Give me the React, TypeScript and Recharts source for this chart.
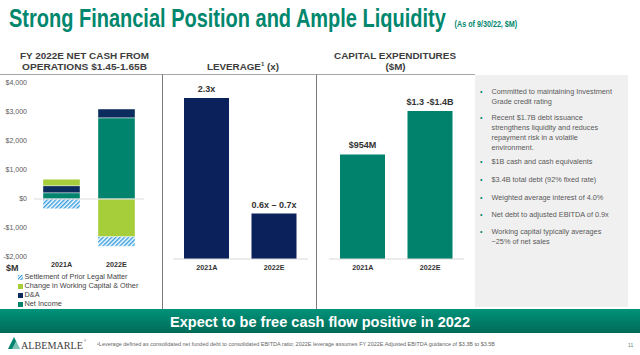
import React from 'react';
import { BarChart, Bar, XAxis, YAxis, ReferenceLine, Legend, LabelList } from 'recharts';

// net cash from operations ($M)
const cashCategories = ['2021A', '2022E'];
const netIncome = [215, 2800];
const depreciation = [245, 300];
const workingCapital = [220, -1300];
const legalSettlement = [-335, -330];
const cashTicks = [-2000, -1000, 0, 1000, 2000, 3000, 4000];

// leverage (x)
const leverageCategories = ['2021A', '2022E'];
const leverageValues = [2.3, 0.65];
const leverageLabels = ['2.3x', '0.6x – 0.7x'];

// capex ($M)
const capexCategories = ['2021A', '2022E'];
const capexValues = [954, 1350];
const capexLabels = ['$954M', '$1.3 -$1.4B'];

const bullets = [
  ['Committed to maintaining Investment', 'Grade credit rating'],
  ['Recent $1.7B debt issuance', 'strengthens liquidity and reduces', 'repayment risk in a volatile', 'environment.'],
  ['$1B cash and cash equivalents'],
  ['$3.4B total debt (92% fixed rate)'],
  ['Weighted average interest of 4.0%'],
  ['Net debt to adjusted EBITDA of 0.9x'],
  ['Working capital typically averages', '~25% of net sales'],
];
const bulletTops = [91.7, 117.3, 161.7, 179.7, 197.3, 214.3, 231.7];

const TEAL = '#00846d';
const NAVY = '#0b2c5d';
const LIME = '#a6cd3a';
const HATCH = '#3a9fe0';
const FONT = '"Liberation Sans", Arial, sans-serif';

const cashSeries = [
  { key: 'ni', name: 'Net Income', fill: TEAL },
  { key: 'da', name: 'D&A', fill: NAVY },
  { key: 'wc', name: 'Change in Working Capital & Other', fill: LIME },
  { key: 'legal', name: 'Settlement of Prior Legal Matter', fill: 'url(#legalHatch)' },
];

const cashData = cashCategories.map((cat, i) => ({
  cat,
  ni: netIncome[i],
  da: depreciation[i],
  wc: workingCapital[i],
  legal: legalSettlement[i],
}));
const leverageData = leverageCategories.map((cat, i) => ({ cat, value: leverageValues[i], label: leverageLabels[i] }));
const capexData = capexCategories.map((cat, i) => ({ cat, value: capexValues[i], label: capexLabels[i] }));

const fmtMoney = (v: number) => (v < 0 ? '-$' : '$') + Math.abs(v).toLocaleString('en-US');

const catTick = { fill: '#333', fontSize: 7.2, fontWeight: 700, fontFamily: FONT };

// label above bar, no wrapping
const renderTopLabel = (p: any) => (
  <text x={p.x + p.width / 2} y={p.y - 6} textAnchor="middle" fill="#333" fontSize={9} fontWeight={700} fontFamily={FONT}>
    {p.value}
  </text>
);

function CashLegend() {
  const items = [...cashSeries].reverse();
  return (
    <div style={{ fontFamily: FONT, fontSize: 7.3, color: '#444', lineHeight: '8.9px' }}>
      {items.map((s) => (
        <div key={s.key} style={{ display: 'flex', alignItems: 'center', whiteSpace: 'nowrap' }}>
          <svg width={5} height={5} style={{ marginRight: 1.5 }}>
            <defs>
              <pattern id="legendHatch" patternUnits="userSpaceOnUse" width={2.4} height={2.4} patternTransform="rotate(45)">
                <rect width={2.4} height={2.4} fill="#fff" />
                <rect width={1.2} height={2.4} fill={HATCH} />
              </pattern>
            </defs>
            <rect width={5} height={5} fill={s.key === 'legal' ? 'url(#legendHatch)' : s.fill} />
          </svg>
          {s.name}
        </div>
      ))}
    </div>
  );
}

function Slide() {
  const bulletRows: React.ReactNode[] = [];
  bullets.forEach((lines, bi) => {
    const y = bulletTops[bi];
    bulletRows.push(
      <text key={'b' + bi} x={480} y={y + 2.5} fontSize={7} fill={TEAL}>•</text>
    );
    lines.forEach((line, li) => {
      bulletRows.push(
        <text key={bi + '-' + li} x={491.5} y={y + li * 9.9 + 2.5} fontSize={7.3} fill="#5a5a5a">{line}</text>
      );
    });
  });

  return (
    <svg width={640} height={355} style={{ position: 'absolute', left: 0, top: 0 }} fontFamily={FONT}>
      <defs>
        <linearGradient id="banner" x1="0" y1="0" x2="0" y2="1">
          <stop offset="0%" stopColor="#00937b" />
          <stop offset="100%" stopColor="#006a57" />
        </linearGradient>
      </defs>
      {/* title + subtitle in one condensed line */}
      <text transform="translate(9,27) scale(0.8,1)" fontSize={25} fontWeight={700} fill="#00876d">
        Strong Financial Position and Ample Liquidity
        <tspan fontSize={9} dx={11}>(As of 9/30/22, $M)</tspan>
      </text>

      {/* headers */}
      <text x={20} y={58.5} fontSize={9.8} fontWeight={700} fill="#3d3d3d" textLength={129} lengthAdjust="spacingAndGlyphs">FY 2022E NET CASH FROM</text>
      <text x={22} y={69.5} fontSize={9.8} fontWeight={700} fill="#3d3d3d" textLength={125} lengthAdjust="spacingAndGlyphs">OPERATIONS $1.45-1.65B</text>
      <text x={243} y={69.5} fontSize={9.8} fontWeight={700} fill="#3d3d3d" textAnchor="middle">
        LEVERAGE<tspan fontSize={6} dy={-3.5}>1</tspan><tspan dy={3.5}> (x)</tspan>
      </text>
      <text x={334} y={58.5} fontSize={9.8} fontWeight={700} fill="#3d3d3d" textLength={122} lengthAdjust="spacingAndGlyphs">CAPITAL EXPENDITURES</text>
      <text x={395.5} y={70} fontSize={9.8} fontWeight={700} fill="#3d3d3d" textAnchor="middle">($M)</text>

      {/* dividers */}
      <line x1={0} x2={475} y1={74.5} y2={74.5} stroke="#a6a6a6" strokeWidth={1} />
      <line x1={162.5} x2={162.5} y1={74.5} y2={309} stroke="#7a7a7a" strokeWidth={1} />
      <line x1={316.5} x2={316.5} y1={74.5} y2={309} stroke="#7a7a7a" strokeWidth={1} />

      {/* right panel */}
      <rect x={475} y={75} width={153} height={232} fill="#f0f0f0" />
      {bulletRows}

      <text x={6} y={271} fontSize={9} fontWeight={700} fill="#333">$M</text>

      {/* banner */}
      <rect x={0} y={309} width={640} height={24} fill="url(#banner)" />
      <text x={170} y={327} fontSize={14.3} fontWeight={700} fill="#fff" textLength={300} lengthAdjust="spacingAndGlyphs">
        Expect to be free cash flow positive in 2022
      </text>

      {/* footer */}
      <polygon points="8,349 14,337 20,349" fill="#00846d" />
      <polygon points="12,349 16,341 20,349" fill="#fff" opacity={0.5} />
      <text x={21} y={349} fontSize={10.5} fill="#3c3c3c" fontFamily={'"Liberation Serif", serif'} textLength={62} lengthAdjust="spacingAndGlyphs">ALBEMARLE</text>
      <text x={84} y={342} fontSize={3} fill="#3c3c3c">®</text>
      <text x={97} y={346} fontSize={5} fill="#666" textLength={398} lengthAdjust="spacingAndGlyphs">
        ¹Leverage defined as consolidated net funded debt to consolidated EBITDA ratio; 2022E leverage assumes FY 2022E Adjusted EBITDA guidance of $3.3B to $3.5B
      </text>
      <text x={628} y={347} fontSize={5} fill="#5a8a80">11</text>
    </svg>
  );
}

export default function App() {
  return (
    <div style={{ position: 'absolute', left: 0, top: 0, width: 640, height: 355, background: '#fff', overflow: 'hidden', fontFamily: FONT }}>
      <Slide />

      {/* net cash from operations */}
      <div style={{ position: 'absolute', left: 0, top: 0 }}>
        <BarChart width={160} height={300} data={cashData} stackOffset="sign" barSize={37}
          margin={{ top: 83, right: 16, bottom: 23, left: 0 }}>
          <defs>
            <pattern id="legalHatch" patternUnits="userSpaceOnUse" width={3} height={3} patternTransform="rotate(45)">
              <rect width={3} height={3} fill="#fff" />
              <rect width={1.5} height={3} fill={HATCH} />
            </pattern>
          </defs>
          <XAxis dataKey="cat" axisLine={false} tickLine={false} tickSize={0} tickMargin={5} height={20} tick={catTick} />
          <YAxis width={34} domain={[-2000, 4000]} ticks={cashTicks} allowDataOverflow axisLine={false} tickLine={false}
            tickSize={0} tickMargin={7} tickFormatter={fmtMoney} tick={{ fill: '#595959', fontSize: 7, fontFamily: FONT }} />
          <ReferenceLine y={0} stroke="#dcdcdc" strokeWidth={1} />
          {cashSeries.map((s) => (
            <Bar key={s.key} dataKey={s.key} name={s.name} stackId="cash" fill={s.fill} stroke="#fff" strokeWidth={0.4} isAnimationActive={false} />
          ))}
          <Legend layout="horizontal" verticalAlign="middle" align="center" content={<CashLegend />}
            wrapperStyle={{ left: 18, top: 273, width: 150 }} />
        </BarChart>
      </div>

      {/* leverage */}
      <div style={{ position: 'absolute', left: 160, top: 0 }}>
        <BarChart width={155} height={300} data={leverageData} barSize={45}
          margin={{ top: 98, right: 7, bottom: 21, left: 13 }}>
          <XAxis dataKey="cat" axisLine={{ stroke: '#d9d9d9' }} tickLine={false} tickSize={0} tickMargin={5.5} height={20} tick={catTick} />
          <YAxis hide domain={[0, 2.3]} allowDataOverflow />
          <Bar dataKey="value" fill="#0b215c" isAnimationActive={false}>
            <LabelList dataKey="label" content={renderTopLabel} />
          </Bar>
        </BarChart>
      </div>

      {/* capex */}
      <div style={{ position: 'absolute', left: 315, top: 0 }}>
        <BarChart width={155} height={300} data={capexData} barSize={45}
          margin={{ top: 111, right: 6, bottom: 21, left: 14 }}>
          <XAxis dataKey="cat" axisLine={{ stroke: '#d9d9d9' }} tickLine={false} tickSize={0} tickMargin={5.5} height={20} tick={catTick} />
          <YAxis hide domain={[0, 1350]} allowDataOverflow />
          <Bar dataKey="value" fill="#00826c" isAnimationActive={false}>
            <LabelList dataKey="label" content={renderTopLabel} />
          </Bar>
        </BarChart>
      </div>
    </div>
  );
}
